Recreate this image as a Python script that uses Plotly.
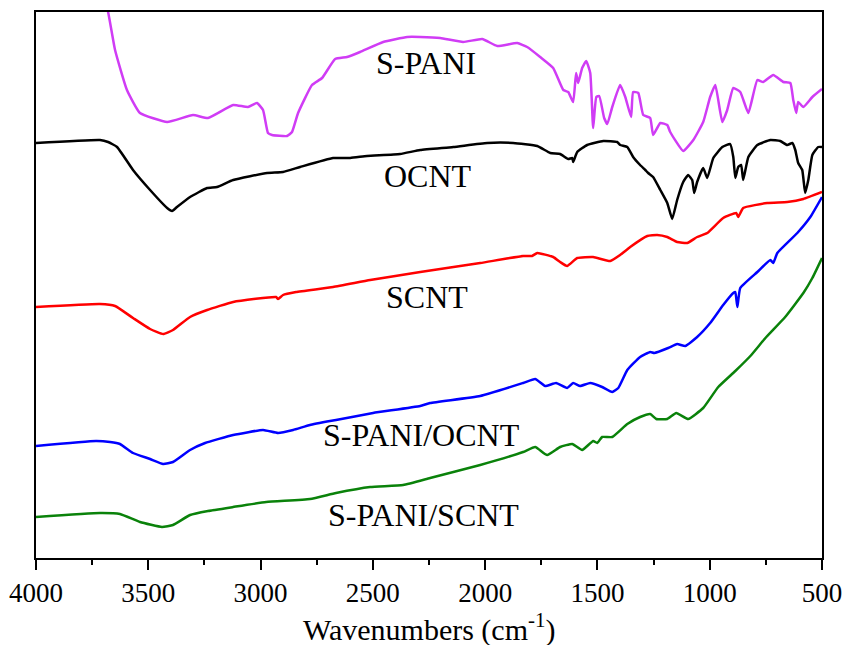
import plotly.graph_objects as go

# FTIR spectra, vertically offset for display (transmittance, a.u.)
spani_wn = [3720, 3679, 3648, 3595, 3537, 3416, 3301, 3234, 3122, 3056, 3016, 2989, 2967, 2949,
            2882, 2860, 2833, 2771, 2726, 2668, 2615, 2557, 2454, 2347, 2289, 2200, 2098, 2013,
            1946, 1857, 1813, 1755, 1697, 1652, 1630, 1608, 1595, 1586, 1568, 1550, 1532, 1519,
            1505, 1492, 1470, 1456, 1434, 1399, 1376, 1350, 1341, 1318, 1296, 1265, 1252, 1220,
            1189, 1176, 1118, 1073, 1029, 998, 975, 944, 922, 895, 864, 828, 788, 762, 717, 672,
            641, 628, 615, 606, 583, 543, 500]
spani_t = [578, 546, 508, 468, 445, 436, 443, 440, 453, 451, 455, 448, 425, 423,
           422, 426, 445, 473, 480, 499, 501, 506, 516, 521, 521, 520, 516, 519,
           512, 515, 511, 501, 490, 468, 466, 456, 485, 475, 490, 497, 485, 430,
           461, 462, 440, 434, 451, 473, 461, 441, 466, 465, 443, 440, 423, 435,
           433, 426, 407, 418, 436, 461, 473, 436, 448, 470, 466, 445, 478, 476, 483, 476,
           475, 458, 445, 456, 451, 461, 469]

ocnt_wn = [4000, 3715, 3679, 3639, 3568, 3492, 3416, 3394, 3372, 3314, 3238, 3194, 3122, 2971,
           2900, 2824, 2677, 2601, 2526, 2379, 2289, 2142, 1991, 1875, 1768, 1710, 1666, 1630,
           1612, 1608, 1590, 1546, 1474, 1412, 1399, 1367, 1341, 1310, 1287, 1274, 1252, 1220,
           1189, 1167, 1145, 1118, 1096, 1078, 1069, 1056, 1029, 1011, 984, 944, 909, 895, 886,
           873, 860, 851, 828, 788, 730, 686, 655, 632, 619, 606, 588, 575, 561, 543, 517, 500]
ocnt_t = [415, 418, 416, 411, 388, 368, 350, 347, 351, 361, 370, 371, 378, 385,
          386, 391, 400, 400, 402, 404, 408, 411, 415, 415, 412, 405, 404, 399,
          400, 396, 406, 413, 417, 416, 413, 411, 401, 393, 388, 385, 381, 368,
          355, 339, 358, 376, 383, 378, 365, 376, 390, 380, 400, 411, 414, 401, 380,
          391, 393, 378, 401, 413, 418, 417, 413, 415, 408, 395, 388, 365, 378, 403, 411, 411]

scnt_wn = [4000, 3715, 3648, 3568, 3492, 3434, 3390, 3314, 3238, 3122, 2931, 2922, 2900, 2842,
           2677, 2512, 2289, 2022, 1831, 1791, 1768, 1697, 1666, 1635, 1590, 1519, 1443, 1399,
           1354, 1278, 1234, 1189, 1145, 1100, 1056, 1011, 940, 882, 873, 851, 744, 655, 583, 500]
scnt_t = [251, 254, 252, 240, 229, 224, 228, 241, 248, 256, 261, 259, 263, 266,
          271, 278, 286, 295, 302, 302, 305, 301, 296, 292, 300, 301, 297, 303,
          311, 322, 323, 321, 316, 315, 321, 325, 340, 345, 341, 350, 355, 356, 359, 366]

spani_ocnt_wn = [4000, 3733, 3670, 3626, 3568, 3492, 3434, 3390, 3314, 3247, 3122, 2989, 2922,
                 2855, 2780, 2664, 2499, 2289, 2245, 2022, 1831, 1777, 1733, 1684, 1635, 1608,
                 1577, 1532, 1479, 1434, 1407, 1367, 1310, 1265, 1247, 1185, 1145, 1109, 1056,
                 998, 940, 895, 886, 877, 864, 788, 730, 717, 699, 610, 552, 500]
spani_ocnt_t = [112, 117, 116, 114, 105, 99, 94, 96, 108, 115, 123, 128, 125,
                128, 133, 138, 145, 152, 155, 162, 175, 179, 172, 175, 170, 175,
                172, 175, 171, 166, 170, 188, 201, 206, 205, 210, 214, 212, 221,
                235, 253, 265, 266, 251, 270, 286, 298, 295, 305, 325, 341, 361]

spani_scnt_wn = [4000, 3715, 3626, 3537, 3439, 3390, 3314, 3234, 3122, 2975, 2780, 2664, 2512,
                 2365, 2245, 2022, 1831, 1777, 1724, 1666, 1612, 1568, 1519, 1501, 1479, 1434,
                 1367, 1310, 1265, 1238, 1189, 1149, 1096, 1029, 962, 886, 819, 752, 664, 583,
                 543, 500]
spani_scnt_t = [41, 45, 44, 36, 31, 33, 43, 47, 51, 56, 59, 65, 71,
                73, 80, 93, 106, 111, 103, 111, 114, 108, 117, 115, 121, 121,
                134, 141, 144, 139, 139, 145, 139, 150, 171, 187, 202, 220, 241, 265,
                280, 300]

series = [
    ("S-PANI", spani_wn, spani_t, "#D03CF5"),
    ("OCNT", ocnt_wn, ocnt_t, "#000000"),
    ("SCNT", scnt_wn, scnt_t, "#FF0000"),
    ("S-PANI/OCNT", spani_ocnt_wn, spani_ocnt_t, "#0000FF"),
    ("S-PANI/SCNT", spani_scnt_wn, spani_scnt_t, "#0A820A"),
]

# label anchor positions (wavenumber, transmittance)
label_wn = [2265, 2255, 2260, 2285, 2275]
label_t = [495, 382, 261, 123, 43]

SERIF = "Liberation Serif, Times New Roman, serif"

fig = go.Figure()
for name, wn, t, color in series:
    fig.add_trace(go.Scatter(x=wn, y=t, mode="lines", name=name,
                             line=dict(color=color, width=2.5, shape="spline", smoothing=0.4)))

for (name, _, _, _), lx, ly in zip(series, label_wn, label_t):
    fig.add_annotation(x=lx, y=ly, text=name, showarrow=False,
                       font=dict(family=SERIF, size=32, color="black"))

# x-axis title, placed below the tick labels
fig.add_annotation(xref="paper", yref="paper", x=0.5, y=0, yanchor="middle", yshift=-69,
                   text="Wavenumbers (cm<sup>-1</sup>)", showarrow=False,
                   font=dict(family=SERIF, size=30, color="black"))

fig.update_layout(
    width=844, height=645,
    margin=dict(l=36, r=22, t=12, b=87),
    paper_bgcolor="white", plot_bgcolor="white",
    showlegend=False,
    font=dict(family=SERIF, color="black"),
    xaxis=dict(
        range=[4000, 500], tickvals=[4000, 3500, 3000, 2500, 2000, 1500, 1000, 500],
        ticks="outside", ticklen=10, tickwidth=2, tickcolor="black",
        minor=dict(ticks="outside", ticklen=5, tickwidth=2, tickcolor="black", dtick=250, tick0=500),
        showline=True, linewidth=2, linecolor="black", mirror=True,
        showgrid=False, zeroline=False, automargin=False, ticklabeloverflow="allow",
        tickfont=dict(family=SERIF, size=27, color="black"),
    ),
    yaxis=dict(
        range=[0, 546], showticklabels=False, ticks="",
        showline=True, linewidth=2, linecolor="black", mirror=True,
        showgrid=False, zeroline=False, automargin=False,
    ),
)

fig.write_html("out.html")
